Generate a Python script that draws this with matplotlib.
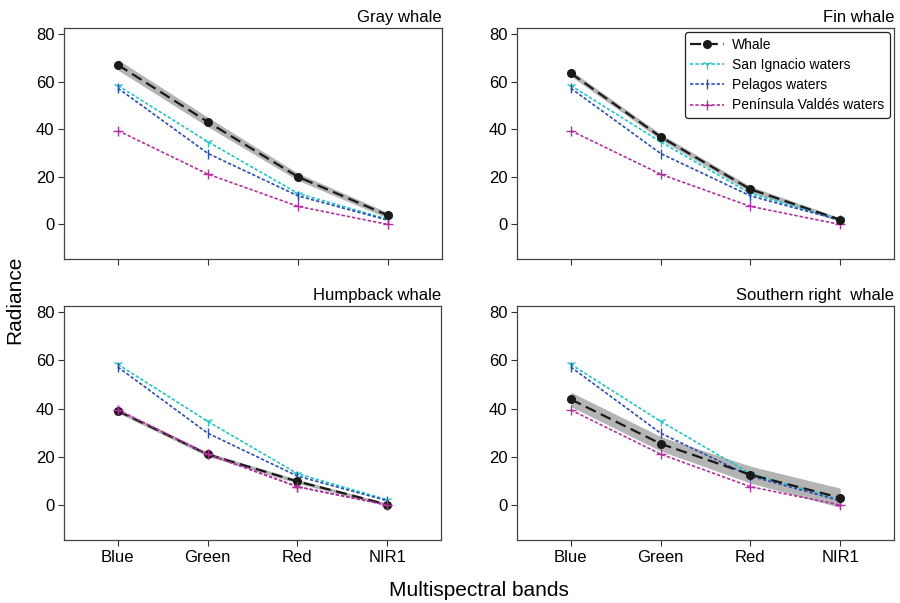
import numpy as np
from matplotlib import pyplot as plt

plt.rcParams['font.family'] = ['Liberation Sans', 'DejaVu Sans']

bands = ['Blue', 'Green', 'Red', 'NIR1']
titles = ['Gray whale', 'Fin whale', 'Humpback whale', 'Southern right  whale']

# whale radiance (mean) and spread for the grey band
whale_mean = [
    [67, 43, 20, 3.8],
    [63.5, 36.8, 14.8, 2.0],
    [39, 21, 9.8, 0.2],
    [43.8, 25.4, 12.6, 3.0],
]
whale_std = [
    [2.2, 2.0, 1.5, 1.2],
    [1.2, 1.2, 1.2, 0.8],
    [0.8, 0.8, 0.8, 0.6],
    [3.0, 3.0, 3.5, 4.0],
]

# water references (same in every panel)
san_ignacio = [58.3, 34.7, 13.0, 2.2]
pelagos = [57.2, 29.8, 12.0, 1.8]
valdes = [39.4, 21.1, 7.6, 0.0]

c_san = '#22c3c8'
c_pel = '#2a4fb0'
c_val = '#b2309f'
dots = (0, (2, 1.2))

fig = plt.figure(figsize=(9, 6.03), dpi=100)
W, H = 900.0, 603.0
boxes = [(64, 28, 442, 259), (517, 28, 894, 259),
         (64, 306, 441, 540), (517, 306, 894, 540)]

x = np.arange(len(bands))
for i, (l, t, r, b) in enumerate(boxes):
    ax = fig.add_axes([l / W, 1 - b / H, (r - l) / W, (b - t) / H])
    m = np.array(whale_mean[i])
    s = np.array(whale_std[i])
    ax.fill_between(x, m - s, m + s, color='#b4b4b4', lw=0, zorder=1)
    ax.plot(x, m, '--o', color='#1a1a1a', lw=1.6, ms=5.5, dashes=(5, 2.5),
            label='Whale', zorder=5)
    ax.plot(x, san_ignacio, ls=dots, marker='1', color=c_san, lw=1.2,
            ms=6.5, mew=1.0, label='San Ignacio waters', zorder=3)
    ax.plot(x, pelagos, ls=dots, marker='|', color=c_pel, lw=1.2, ms=6.5,
            mew=1.0, label='Pelagos waters', zorder=3)
    ax.plot(x, valdes, ls=dots, marker='+', color=c_val, lw=1.2, ms=6.5,
            mew=1.0, label='Península Valdés waters', zorder=4)
    if i == 2:
        # humpback whale sits on top of the Valdés line
        ax.plot(x, valdes, ls=dots, marker='+', color=c_val, lw=1.2, ms=6.5,
                mew=1.0, zorder=6)
    ax.set_xlim(-0.6, 3.6)
    ax.set_ylim(-14.5, 82.5)
    ax.set_yticks([0, 20, 40, 60, 80])
    ax.set_xticks(x)
    if i >= 2:
        ax.set_xticklabels(bands)
    else:
        ax.set_xticklabels([])
    ax.tick_params(labelsize=12, length=4, width=0.8, color='#333333',
                   pad=3)
    for sp in ax.spines.values():
        sp.set_color('#444444')
        sp.set_linewidth(0.9)
    ax.set_title(titles[i], loc='right', fontsize=12, pad=4)
    if i == 1:
        leg = ax.legend(loc='upper right', fontsize=10, frameon=True,
                        fancybox=True, edgecolor='#222222', handlelength=2.4,
                        borderaxespad=0.3, labelspacing=0.45,
                        handletextpad=0.6, framealpha=1)
        leg.get_frame().set_linewidth(0.9)

fig.text(15 / W, 1 - 300 / H, 'Radiance', rotation=90, fontsize=15,
         ha='center', va='center')
fig.text(479 / W, 1 - 590 / H, 'Multispectral bands', fontsize=15,
         ha='center', va='center')

fig.savefig('out.png', dpi=100)
